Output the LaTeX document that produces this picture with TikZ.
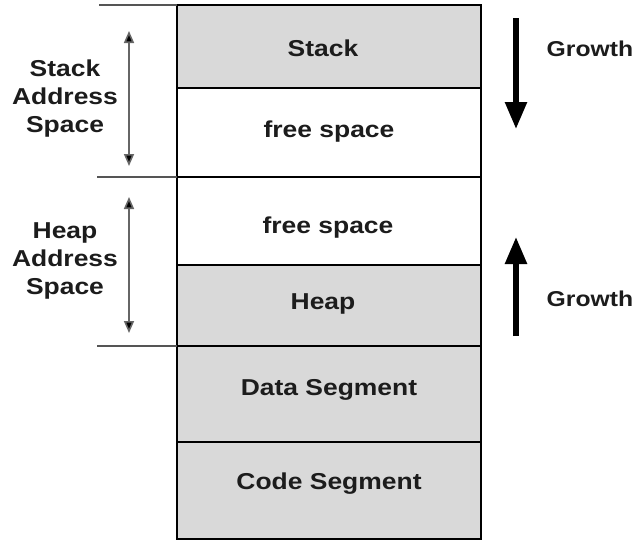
\documentclass[tikz,border=0pt]{standalone}
\usepackage{fontspec}
\setmainfont{Liberation Sans}[FakeStretch=1.15]
\usetikzlibrary{arrows.meta}
\definecolor{segfill}{HTML}{D9D9D9}
\definecolor{rulegray}{HTML}{555555}
\definecolor{inktext}{HTML}{1C1C1C}
\tikzset{
  segbox/.style={draw=black, line width=2pt, minimum width=304pt, inner sep=0pt, outer sep=0pt},
  segtext/.style={anchor=base, inner sep=0pt, font=\fontsize{23}{27}\selectfont\bfseries, text=inktext},
  lbltext/.style={font=\fontsize{23}{28}\selectfont\bfseries, align=center, text=inktext},
  growtext/.style={anchor=base, inner sep=0pt, font=\fontsize{21.5}{26}\selectfont\bfseries, text=inktext},
  seprule/.style={draw=rulegray, line width=1.4pt},
  spanarrow/.style={draw=rulegray!90, line width=1.6pt, {Triangle[width=10pt,length=12pt,fill=black]}-{Triangle[width=10pt,length=12pt,fill=black]}},
  growarrow/.style={draw=black, line width=5.5pt, -{Triangle[width=21pt,length=27pt]}}
}
\begin{document}
\begin{tikzpicture}[x=1pt,y=-1pt]
\useasboundingbox (0,0) rectangle (641,541);
% segments
\node[segbox, fill=segfill, minimum height=83pt] (stack) at (329,46.5) {};
\node[segbox, fill=white, minimum height=89pt] (free1) at (329,132.5) {};
\node[segbox, fill=white, minimum height=88pt] (free2) at (329,221) {};
\node[segbox, fill=segfill, minimum height=81pt] (heap) at (329,305.5) {};
\node[segbox, fill=segfill, minimum height=96pt] (data) at (329,394) {};
\node[segbox, fill=segfill, minimum height=97pt] (code) at (329,490.5) {};
% segment texts
\node[segtext] (stackt) at (323,56) {Stack};
\node[segtext] (free1t) at (329,137.5) {free space};
\node[segtext] (free2t) at (328,233) {free space};
\node[segtext] (heapt) at (323,309) {Heap};
\node[segtext] (datat) at (329,395) {Data Segment};
\node[segtext] (codet) at (329,489) {Code Segment};
% separator lines on the left
\coordinate (s1) at (99,5);
\coordinate (s2) at (97,177);
\coordinate (s3) at (97,346);
\draw[seprule] (s1) -- (stack.north west);
\draw[seprule] (s2) -- (free2.north west);
\draw[seprule] (s3) -- (data.north west);
% span arrows
\coordinate (a1t) at (129,31);
\coordinate (a1b) at (129,166);
\coordinate (a2t) at (129,197);
\coordinate (a2b) at (129,333);
\draw[spanarrow] (a1t) -- (a1b);
\draw[spanarrow] (a2t) -- (a2b);
% labels
\node[lbltext] (stacklbl) at (65,98.5) {Stack\\Address\\Space};
\node[lbltext] (heaplbl) at (65,261) {Heap\\Address\\Space};
% growth arrows
\coordinate (g1s) at (516,18);
\coordinate (g1e) at (516,129);
\coordinate (g2s) at (516,336);
\coordinate (g2e) at (516,237);
\draw[growarrow] (g1s) -- (g1e);
\draw[growarrow] (g2s) -- (g2e);
\node[growtext] (grow1) at (590,56) {Growth};
\node[growtext] (grow2) at (590,306) {Growth};
\end{tikzpicture}
\end{document}
